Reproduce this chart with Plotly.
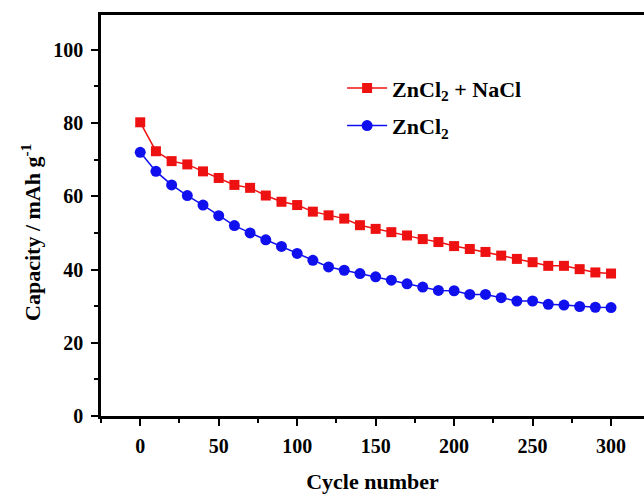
import plotly.graph_objects as go

cycles = list(range(0, 301, 10))
cap_zncl2_nacl = [80.2, 72.3, 69.6, 68.7, 66.8, 65.0, 63.1, 62.3, 60.2, 58.5,
                  57.6, 55.8, 54.8, 53.9, 52.1, 51.1, 50.2, 49.3, 48.3, 47.5,
                  46.4, 45.6, 44.8, 43.8, 42.9, 42.0, 41.0, 41.0, 40.1, 39.2, 38.9]
cap_zncl2 = [72.0, 66.8, 63.1, 60.2, 57.6, 54.7, 52.0, 50.0, 48.1, 46.3,
             44.4, 42.5, 40.7, 39.8, 38.9, 38.0, 37.1, 36.1, 35.2, 34.3,
             34.2, 33.2, 33.2, 32.3, 31.4, 31.4, 30.5, 30.3, 29.9, 29.7, 29.6]

FONT = "Liberation Serif"

fig = go.Figure()
fig.add_trace(go.Scatter(
    x=cycles, y=cap_zncl2_nacl, mode="lines+markers",
    name="ZnCl<sub>2</sub> + NaCl", legendgroup="a",
    line=dict(color="#ee1111", width=1.5),
    marker=dict(symbol="square", size=10, color="#ee1111")))
fig.add_trace(go.Scatter(
    x=cycles, y=cap_zncl2, mode="lines+markers",
    name="ZnCl<sub>2</sub>", legendgroup="b",
    line=dict(color="#1010ee", width=1.5),
    marker=dict(symbol="circle", size=11, color="#1010ee")))

fig.update_layout(
    width=644, height=494,
    margin=dict(l=101, r=0, t=15, b=78),
    paper_bgcolor="white", plot_bgcolor="white",
    font=dict(family=FONT, size=20, color="black", weight="bold"),
    showlegend=True,
    legend=dict(x=0.444, y=0.87, xanchor="left", yanchor="top",
                bgcolor="rgba(0,0,0,0)", font=dict(size=22, family=FONT, weight="bold"),
                itemwidth=40, tracegroupgap=6),
    annotations=[dict(
        text="Capacity / mAh g<sup>-1</sup>", xref="paper", yref="paper",
        x=-0.129, y=0.459, xanchor="center", yanchor="middle", textangle=-90,
        showarrow=False, font=dict(family=FONT, size=22, weight="bold", color="black"))],
)
fig.update_xaxes(
    range=[-25, 321], showgrid=False, zeroline=False,
    showline=True, linecolor="black", linewidth=2.5, mirror=True,
    tickmode="array", tickvals=[0, 50, 100, 150, 200, 250, 300],
    ticks="outside", ticklen=7, tickwidth=2, tickcolor="black",
    minor=dict(tickvals=[-25, 25, 75, 125, 175, 225, 275], ticks="outside",
               ticklen=4, tickwidth=2, tickcolor="black", showgrid=False),
    tickfont=dict(family=FONT, size=20, weight="bold"),
    ticklabelstandoff=3,
    title=dict(text="Cycle number", font=dict(family=FONT, size=22, weight="bold"), standoff=22),
)
fig.update_yaxes(
    range=[0, 109.5], showgrid=False, zeroline=False,
    showline=True, linecolor="black", linewidth=2.5, mirror=False,
    tickmode="array", tickvals=[0, 20, 40, 60, 80, 100],
    ticks="outside", ticklen=7, tickwidth=2, tickcolor="black",
    minor=dict(tickvals=[10, 30, 50, 70, 90], ticks="outside",
               ticklen=4, tickwidth=2, tickcolor="black", showgrid=False),
    tickfont=dict(family=FONT, size=20, weight="bold"),
    ticklabelstandoff=4,
)

fig.write_html("out.html")
